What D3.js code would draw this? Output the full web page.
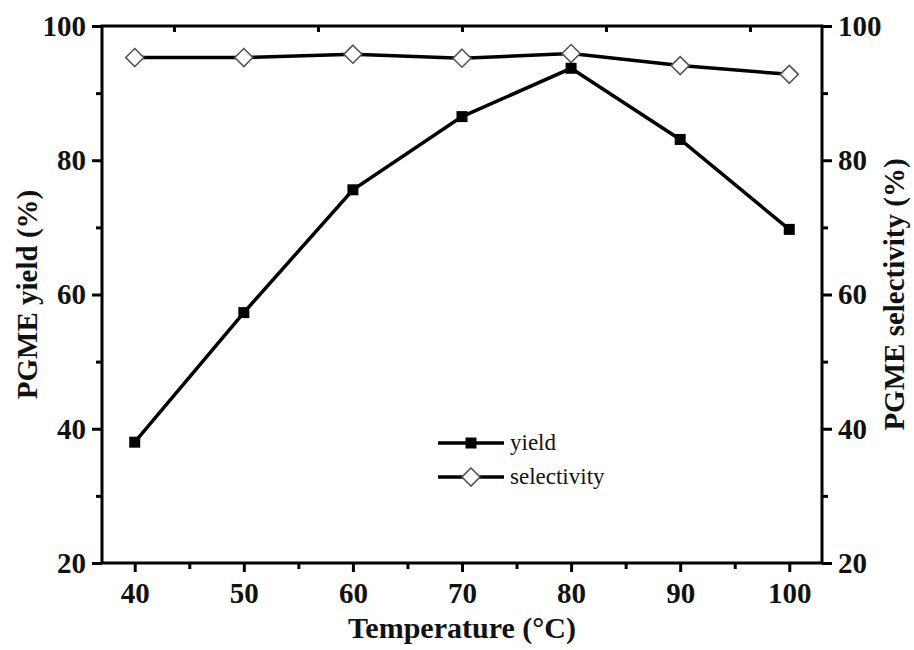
<!DOCTYPE html>
<html>
<head>
<meta charset="utf-8">
<script src="https://cdn.jsdelivr.net/npm/d3@7"></script>
<style>
  body { margin: 0; background: #fff; }
  svg { display: block; }
</style>
</head>
<body>
<svg id="chart" width="914" height="650"></svg>
<script>
// Temperature series (°C) and measured PGME yield / selectivity (%)
const temperatures = [40, 50, 60, 70, 80, 90, 100];
const yieldValues = [38.0, 57.3, 75.6, 86.5, 93.7, 83.1, 69.7];
const selectivityValues = [95.3, 95.3, 95.8, 95.2, 95.9, 94.1, 92.8];
const xTicks = [40, 50, 60, 70, 80, 90, 100];
const yTicks = [20, 40, 60, 80, 100];
const seriesNames = ["yield", "selectivity"];

const FONT = "'Liberation Serif', 'Times New Roman', Times, serif";
const svg = d3.select("#chart").attr("font-family", FONT);
const margin = { left: 102, right: 92, top: 26, bottom: 87 };
const W = 914, H = 650;
const x0 = margin.left, x1 = W - margin.right, y0 = H - margin.bottom, y1 = margin.top;

const x = d3.scaleLinear().domain([37, 103]).range([x0, x1]);
const yL = d3.scaleLinear().domain([20, 100]).range([y0, y1]);
const yR = d3.scaleLinear().domain([20, 100]).range([y0, y1]);
// the top frame carries its own evenly spaced ticks
const xTop = d3.scaleLinear().domain([0, 10]).range([x0, x1]);

const axisW = 3;
const g = svg.append("g");

function styleAxis(sel) {
  sel.select(".domain").remove();
  sel.selectAll(".tick line").attr("stroke", "#000").attr("stroke-width", axisW);
  sel.selectAll(".tick text")
    .attr("font-family", FONT)
    .attr("font-size", 29).attr("font-weight", "bold").attr("fill", "#111");
}

// minor ticks
const xMinor = d3.range(45, 101, 10);
const yMinor = d3.range(30, 100, 20);

// bottom axis
const bottom = g.append("g").attr("transform", `translate(0,${y0})`)
  .call(d3.axisBottom(x).tickValues(xTicks).tickSize(9).tickPadding(8).tickFormat(d3.format("d")));
styleAxis(bottom);
bottom.selectAll(".tick text").attr("dy", "0.78em");
g.append("g").attr("transform", `translate(0,${y0})`)
  .call(d3.axisBottom(x).tickValues(xMinor).tickSize(6).tickFormat(""))
  .call(styleAxis);

// left axis
const left = g.append("g").attr("transform", `translate(${x0},0)`)
  .call(d3.axisLeft(yL).tickValues(yTicks).tickSize(10).tickPadding(6).tickFormat(d3.format("d")));
styleAxis(left);
g.append("g").attr("transform", `translate(${x0},0)`)
  .call(d3.axisLeft(yL).tickValues(yMinor).tickSize(6).tickFormat(""))
  .call(styleAxis);

// right axis
const right = g.append("g").attr("transform", `translate(${x1},0)`)
  .call(d3.axisRight(yR).tickValues(yTicks).tickSize(10).tickPadding(6).tickFormat(d3.format("d")));
styleAxis(right);
g.append("g").attr("transform", `translate(${x1},0)`)
  .call(d3.axisRight(yR).tickValues(yMinor).tickSize(6).tickFormat(""))
  .call(styleAxis);

// top axis (inward ticks)
g.append("g").attr("transform", `translate(0,${y1})`)
  .call(d3.axisBottom(xTop).tickValues([1, 3, 5, 7, 9]).tickSize(6).tickFormat(""))
  .call(styleAxis);

// frame
g.append("rect")
  .attr("x", x0).attr("y", y1).attr("width", x1 - x0).attr("height", y0 - y1)
  .attr("fill", "none").attr("stroke", "#000").attr("stroke-width", axisW);

// lines
const yieldData = temperatures.map((t, i) => [t, yieldValues[i]]);
const selData = temperatures.map((t, i) => [t, selectivityValues[i]]);

const lineL = d3.line().x(d => x(d[0])).y(d => yL(d[1]));
const lineR = d3.line().x(d => x(d[0])).y(d => yR(d[1]));

g.append("path").datum(selData).attr("d", lineR)
  .attr("fill", "none").attr("stroke", "#000").attr("stroke-width", 3.5);
g.append("path").datum(yieldData).attr("d", lineL)
  .attr("fill", "none").attr("stroke", "#000").attr("stroke-width", 3.5);

const sq = d3.symbol().type(d3.symbolSquare).size(121);
const dia = 9;
function diamondPath(cx, cy) {
  return `M${cx},${cy - dia}L${cx + dia},${cy}L${cx},${cy + dia}L${cx - dia},${cy}Z`;
}

g.selectAll(".sel").data(selData).enter().append("path")
  .attr("d", d => diamondPath(x(d[0]), yR(d[1])))
  .attr("fill", "#fff").attr("stroke", "#555").attr("stroke-width", 1.6);

g.selectAll(".yld").data(yieldData).enter().append("path")
  .attr("transform", d => `translate(${x(d[0])},${yL(d[1])})`)
  .attr("d", sq).attr("fill", "#000");

// legend
const lg = g.append("g").attr("transform", "translate(438,443)");
const legendRows = [0, 34];
seriesNames.forEach((name, i) => {
  const row = lg.append("g").attr("transform", `translate(0,${legendRows[i]})`);
  row.append("line").attr("x1", 0).attr("x2", 66).attr("y1", 0).attr("y2", 0)
    .attr("stroke", "#000").attr("stroke-width", 3.5);
  if (i === 0) {
    row.append("path").attr("transform", "translate(33,0)").attr("d", sq).attr("fill", "#000");
  } else {
    row.append("path").attr("d", diamondPath(33, 0))
      .attr("fill", "#fff").attr("stroke", "#555").attr("stroke-width", 1.6);
  }
  row.append("text").attr("x", 72).attr("y", 0).attr("dy", "0.32em")
    .attr("font-size", 23).attr("fill", "#111").text(name);
});

// axis titles
g.append("text").attr("x", (x0 + x1) / 2).attr("y", 638)
  .attr("text-anchor", "middle").attr("font-size", 30).attr("font-weight", "bold")
  .attr("fill", "#111").text("Temperature (°C)");
g.append("text").attr("transform", `translate(37,${(y0 + y1) / 2}) rotate(-90)`)
  .attr("text-anchor", "middle").attr("font-size", 29).attr("font-weight", "bold")
  .attr("fill", "#111").text("PGME yield (%)");
g.append("text").attr("transform", `translate(904,${(y0 + y1) / 2}) rotate(-90)`)
  .attr("text-anchor", "middle").attr("font-size", 29).attr("font-weight", "bold")
  .attr("fill", "#111").text("PGME selectivity (%)");
</script>
</body>
</html>
